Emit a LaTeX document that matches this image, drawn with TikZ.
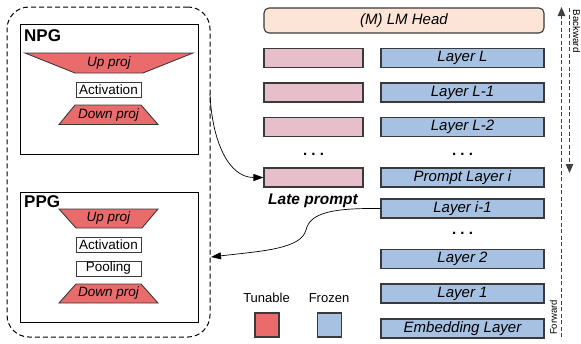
\documentclass[tikz,border=0pt]{standalone}
\usepackage{fontspec}
\setmainfont{Liberation Sans}
\usetikzlibrary{arrows.meta}
\definecolor{tunred}{HTML}{EA6B6B}
\definecolor{promptpink}{HTML}{E6BFCB}
\definecolor{frozenblue}{HTML}{A6C1E1}
\definecolor{headpeach}{HTML}{FCE4D6}
\definecolor{edgegray}{HTML}{3A3A3A}
\tikzset{
  fsz/.style={font=\fontsize{#1}{#1}\selectfont},
  layerbox/.style={draw=edgegray, line width=1.1pt, fill=frozenblue, minimum width=163pt,
    minimum height=19pt, inner sep=0pt, font=\fontsize{15}{15}\selectfont\itshape},
  pinkbox/.style={draw=edgegray, line width=1.1pt, fill=promptpink, minimum width=99pt,
    minimum height=19pt, inner sep=0pt},
  projshape/.style={draw=edgegray, line width=0.9pt, fill=tunred},
  projtext/.style={inner sep=0pt, font=\fontsize{13.5}{13.5}\selectfont\itshape},
  opbox/.style={draw=edgegray, line width=0.9pt, fill=white, minimum width=65pt,
    minimum height=15pt, inner sep=0pt, font=\fontsize{13.5}{13.5}\selectfont},
  genbox/.style={draw=black, line width=1pt, minimum width=178pt, minimum height=130pt, inner sep=0pt},
  dots/.style={anchor=base, inner sep=0pt, font=\fontsize{15}{15}\selectfont\bfseries},
  conn/.style={draw=black, line width=0.7pt, -{Triangle[length=10pt,width=7pt]}},
  dirline/.style={draw=black!75, line width=1pt, dash pattern=on 4pt off 2.5pt,
    -{Triangle[length=9pt,width=7.5pt]}},
}
\begin{document}
\begin{tikzpicture}[x=1pt, y=-1pt]
\useasboundingbox (0,0) rectangle (581,343);

% generator panel (dashed frame)
\node[draw=black, line width=1pt, dash pattern=on 5pt off 3pt, rounded corners=22pt,
  minimum width=203pt, minimum height=330pt, inner sep=0pt] (gen) at (108.5,172) {};

% NPG
\node[genbox] (npg) at (109,89) {};
\node[anchor=west, inner sep=0pt, font=\fontsize{17}{17}\selectfont\bfseries] (npglabel) at (24,36) {NPG};
\filldraw[projshape] (25,53) -- (193,53) -- (143,73) -- (75,73) -- cycle;
\node[projtext] (npgup) at (109,63) {Up proj};
\node[opbox] (npgact) at (108.5,89.5) {Activation};
\filldraw[projshape] (75,105) -- (141,105) -- (158,124.5) -- (59,124.5) -- cycle;
\node[projtext] (npgdown) at (108.5,115) {Down proj};

% PPG
\node[genbox] (ppg) at (109,257) {};
\node[anchor=west, inner sep=0pt, font=\fontsize{17}{17}\selectfont\bfseries] (ppglabel) at (24,202) {PPG};
\filldraw[projshape] (59,209) -- (158,209) -- (142,228) -- (76,228) -- cycle;
\node[projtext] (ppgup) at (108.5,218.5) {Up proj};
\node[opbox] (ppgact) at (108.5,244.5) {Activation};
\node[opbox] (ppgpool) at (108.5,268.5) {Pooling};
\filldraw[projshape] (76,284) -- (141,284) -- (158,303) -- (59,303) -- cycle;
\node[projtext] (ppgdown) at (108.5,293.5) {Down proj};

% LM head
\node[draw=edgegray, line width=1.1pt, fill=headpeach, rounded corners=5pt, minimum width=280pt,
  minimum height=25pt, inner sep=0pt, font=\fontsize{15}{15}\selectfont\itshape] (head) at (404,20.5) {(M) LM Head};

% frozen backbone layers
\node[layerbox] (lL)   at (462.5,58)    {Layer L};
\node[layerbox] (lL1)  at (462.5,92.5)  {Layer L-1};
\node[layerbox] (lL2)  at (462.5,127)   {Layer L-2};
\node[dots]     (dR1)  at (462.5,155)   {.\ .\ .};
\node[layerbox] (lpi)  at (462.5,177.5) {Prompt Layer i};
\node[layerbox] (lim1) at (462.5,208.5) {Layer i-1};
\node[dots]     (dR2)  at (462.5,234)   {.\ .\ .};
\node[layerbox] (l2)   at (462.5,259)   {Layer 2};
\node[layerbox] (l1)   at (462.5,293.5) {Layer 1};
\node[layerbox] (lemb) at (462.5,328.5) {Embedding Layer};

% late prompts
\node[pinkbox] (pL)  at (313.5,58)    {};
\node[pinkbox] (pL1) at (313.5,92.5)  {};
\node[pinkbox] (pL2) at (313.5,127)   {};
\node[dots]    (dL)  at (313.5,155)   {.\ .\ .};
\node[pinkbox] (pi)  at (313.5,177.5) {};
\node[inner sep=0pt, font=\fontsize{15.5}{15.5}\selectfont\bfseries\itshape] (latelabel) at (313,201) {Late prompt};

% legend
\node[inner sep=0pt, fsz=13] (tunlabel) at (266.5,298) {Tunable};
\node[draw=edgegray, line width=1.1pt, fill=tunred, minimum width=24pt, minimum height=24pt, inner sep=0pt] (tunkey) at (267,325) {};
\node[inner sep=0pt, fsz=13] (frzlabel) at (329,298) {Frozen};
\node[draw=edgegray, line width=1.1pt, fill=frozenblue, minimum width=24pt, minimum height=24pt, inner sep=0pt] (frzkey) at (329.5,325) {};

% connectors
\coordinate (npgout) at (210,94);
\coordinate (ppgin) at (211,257);
\draw[conn] (npgout) .. controls (212,140) and (228,177.5) .. (pi.west);
\draw[conn] (lim1.west) .. controls (335,208) and (310,212) .. (306,230)
  .. controls (301,249) and (262,251) .. (ppgin);

% forward / backward passes
\coordinate (fwbot) at (561.5,337);
\coordinate (fwtop) at (561.5,7);
\coordinate (bwtop) at (569.5,8);
\coordinate (bwbot) at (569.5,173);
\draw[dirline] (fwbot) -- (fwtop);
\draw[dirline] (bwtop) -- (bwbot);
\node[rotate=-90, inner sep=0pt, fsz=9.8] (bwlabel) at (576.5,31) {Backward};
\node[rotate=90, inner sep=0pt, fsz=9.5] (fwlabel) at (553.5,317.5) {Forward};
\end{tikzpicture}
\end{document}
